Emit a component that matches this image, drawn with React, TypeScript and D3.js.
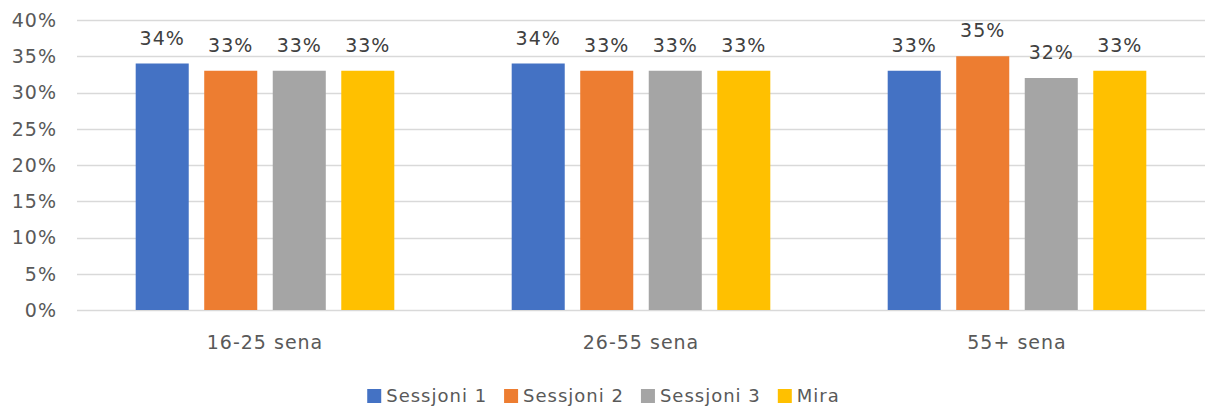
import React, { useEffect, useRef } from 'react';
import * as d3 from 'd3';

const categories = ['16-25 sena', '26-55 sena', '55+ sena'];
const seriesNames = ['Sessjoni 1', 'Sessjoni 2', 'Sessjoni 3', 'Mira'];
const seriesColors = ['#4472C4', '#ED7D31', '#A5A5A5', '#FFC000'];
const sessjoni1 = [34, 34, 33];
const sessjoni2 = [33, 33, 35];
const sessjoni3 = [33, 33, 32];
const mira = [33, 33, 33];
const yTicks = [0, 5, 10, 15, 20, 25, 30, 35, 40];

const App = () => {
  const ref = useRef<SVGSVGElement>(null);

  useEffect(() => {
    const width = 1207;
    const height = 414;
    const margin = { top: 20, right: 2, bottom: 104, left: 77 };
    const font = '"DejaVu Sans", sans-serif';
    const textColor = '#595959';

    const svg = d3.select(ref.current);
    svg.selectAll('*').remove();

    const values = [sessjoni1, sessjoni2, sessjoni3, mira];

    const x0 = d3
      .scaleBand()
      .domain(categories)
      .range([margin.left, width - margin.right])
      .paddingInner(0.271)
      .paddingOuter(0.1355);

    const x1 = d3
      .scaleBand()
      .domain(seriesNames)
      .range([0, x0.bandwidth()])
      .paddingInner(0.226)
      .paddingOuter(0.113);

    const y = d3
      .scaleLinear()
      .domain([0, 40])
      .range([height - margin.bottom, margin.top]);

    // gridlines
    svg
      .append('g')
      .selectAll('line')
      .data(yTicks)
      .enter()
      .append('line')
      .attr('x1', margin.left)
      .attr('x2', width - margin.right)
      .attr('y1', (d) => Math.round(y(d)) + 0.5)
      .attr('y2', (d) => Math.round(y(d)) + 0.5)
      .attr('stroke', '#d9d9d9')
      .attr('stroke-width', 1.3);

    // y tick labels
    svg
      .append('g')
      .selectAll('text')
      .data(yTicks)
      .enter()
      .append('text')
      .attr('x', 57)
      .attr('y', (d) => y(d))
      .attr('dy', '0.36em')
      .attr('text-anchor', 'end')
      .style('font-family', font)
      .style('font-size', '19px')
      .style('letter-spacing', '1px')
      .style('fill', textColor)
      .text((d) => `${d}%`);

    // bars
    const groups = svg
      .append('g')
      .selectAll('g')
      .data(categories)
      .enter()
      .append('g')
      .attr('transform', (d) => `translate(${x0(d)},0)`);

    groups
      .selectAll('rect')
      .data((_, i) => seriesNames.map((s, j) => ({ s, j, v: values[j][i] })))
      .enter()
      .append('rect')
      .attr('x', (d) => x1(d.s)!)
      .attr('width', x1.bandwidth())
      .attr('y', (d) => y(d.v))
      .attr('height', (d) => y(0) - y(d.v))
      .attr('fill', (d) => seriesColors[d.j]);

    groups
      .selectAll('text')
      .data((_, i) => seriesNames.map((s, j) => ({ s, j, v: values[j][i] })))
      .enter()
      .append('text')
      .attr('x', (d) => x1(d.s)! + x1.bandwidth() / 2)
      .attr('y', (d) => y(d.v) - 19)
      .attr('text-anchor', 'middle')
      .style('font-family', font)
      .style('font-size', '19px')
      .style('letter-spacing', '1px')
      .style('fill', '#404040')
      .text((d) => `${d.v}%`);

    // category labels
    svg
      .append('g')
      .selectAll('text')
      .data(categories)
      .enter()
      .append('text')
      .attr('x', (d) => x0(d)! + x0.bandwidth() / 2)
      .attr('y', 349)
      .attr('text-anchor', 'middle')
      .style('font-family', font)
      .style('font-size', '19px')
      .style('letter-spacing', '1px')
      .style('fill', textColor)
      .text((d) => d);

    // legend
    const legend = svg.append('g');
    const items = legend
      .selectAll('g')
      .data(seriesNames)
      .enter()
      .append('g');
    items
      .append('rect')
      .attr('width', 14)
      .attr('height', 14)
      .attr('y', 389)
      .attr('fill', (_, i) => seriesColors[i]);
    items
      .append('text')
      .attr('x', 19)
      .attr('y', 396)
      .attr('dy', '0.36em')
      .style('font-family', font)
      .style('font-size', '18px')
      .style('letter-spacing', '1px')
      .style('fill', textColor)
      .text((d) => d);

    let offset = 0;
    const offsets: number[] = [];
    items.each(function () {
      offsets.push(offset);
      const t = d3.select(this).select('text').node() as SVGTextElement;
      offset += 19 + t.getComputedTextLength() + 17;
    });
    const total = offset - 17;
    const start = width / 2 - total / 2;
    items.attr('transform', (_, i) => `translate(${start + offsets[i]},0)`);
  }, []);

  return <svg ref={ref} width={1207} height={414} style={{ display: 'block', position: 'absolute', left: 0, top: 0 }} />;
};

export default App;
